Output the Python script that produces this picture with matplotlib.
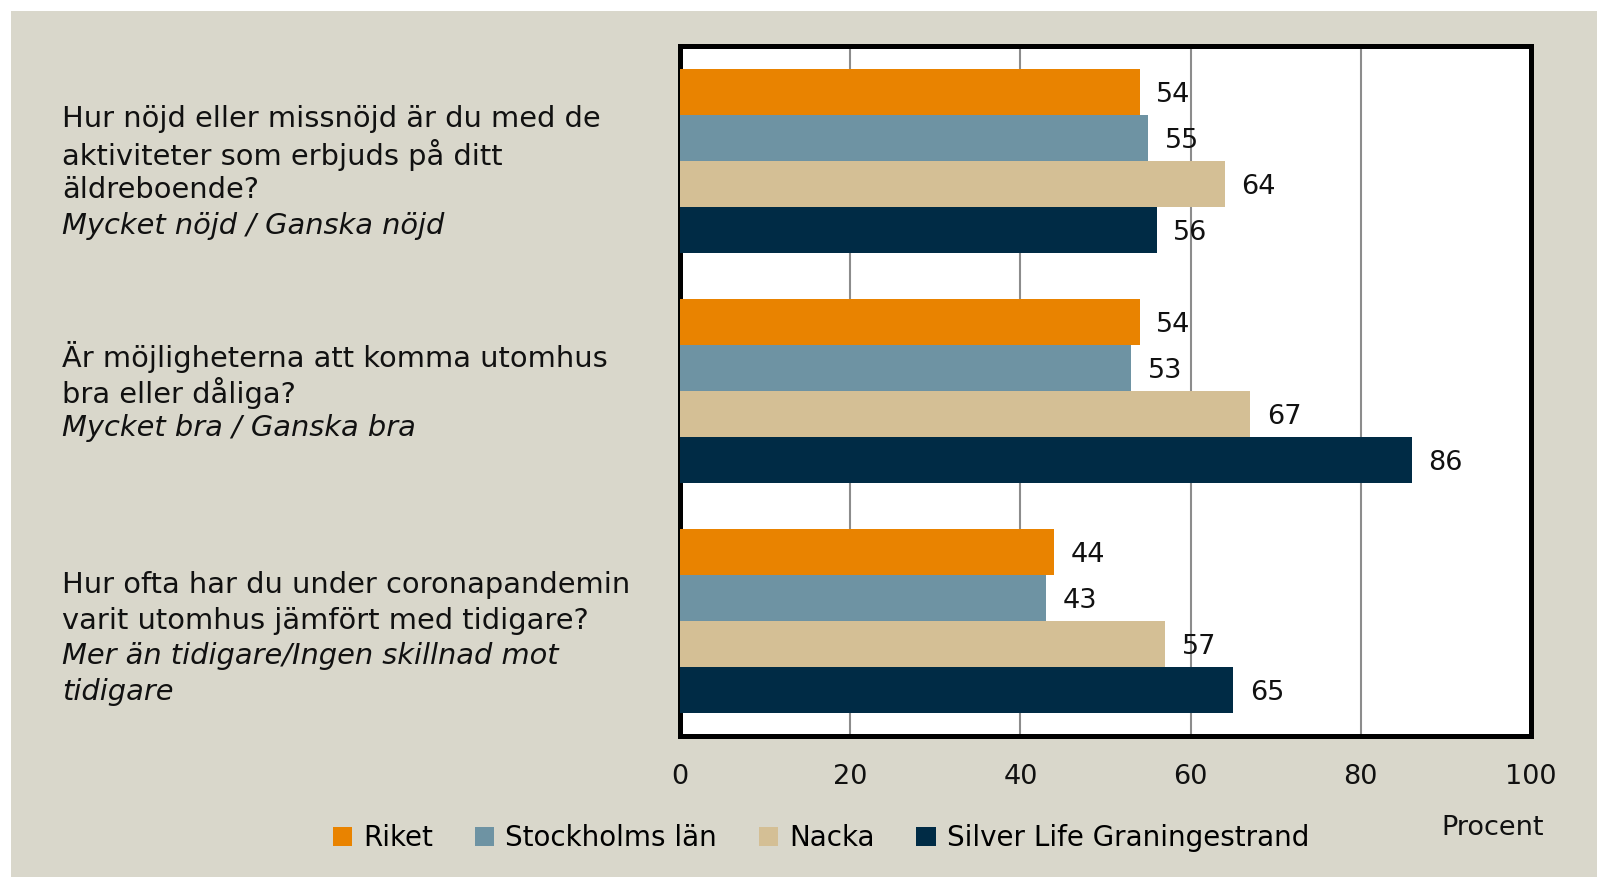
import matplotlib.pyplot as plt
import matplotlib.transforms as mtransforms
from matplotlib.patches import Rectangle, Patch
import numpy as np

plt.rcParams['font.family'] = ['DejaVu Sans']

# data
series = ['Riket', 'Stockholms län', 'Nacka', 'Silver Life Graningestrand']
colors = ['#E98300', '#6E93A3', '#D4BF95', '#002B45']
values = [
    [54, 54, 44],   # Riket
    [55, 53, 43],   # Stockholms län
    [64, 67, 57],   # Nacka
    [56, 86, 65],   # Silver Life Graningestrand
]
questions = [
    ['Hur nöjd eller missnöjd är du med de', 'aktiviteter som erbjuds på ditt', 'äldreboende?'],
    ['Är möjligheterna att komma utomhus', 'bra eller dåliga?'],
    ['Hur ofta har du under coronapandemin', 'varit utomhus jämfört med tidigare?'],
]
answers = [
    ['Mycket nöjd / Ganska nöjd'],
    ['Mycket bra / Ganska bra'],
    ['Mer än tidigare/Ingen skillnad mot', 'tidigare'],
]
first_line_px = [-42, -34, -36]

bg = '#D9D7CB'
fig = plt.figure(figsize=(15.97, 8.77), dpi=100, facecolor='white')
fig.patches.append(Rectangle((11 / 1597, 0), 1, 1 - 11 / 877, transform=fig.transFigure,
                             facecolor=bg, edgecolor='none', zorder=-10))

ax = fig.add_axes([680 / 1597, 1 - 736 / 877, (1531 - 680) / 1597, (736 - 46) / 877])
ax.set_facecolor('white')

h = 0.2
y = np.arange(3)
for i, (name, col) in enumerate(zip(series, colors)):
    pos = y + (i - 1.5) * h
    ax.barh(pos, values[i], height=h, color=col, zorder=3, label=name)
    for p, v in zip(pos, values[i]):
        ax.annotate(str(v), (v, p), xytext=(12, -2.5), textcoords='offset points',
                    va='center', ha='left', fontsize=19.5, color='#111111', zorder=4)

ax.set_xlim(0, 100)
ax.set_ylim(2.5, -0.5)
ax.set_xticks([0, 20, 40, 60, 80, 100])
ax.tick_params(axis='x', length=0, pad=20, labelsize=19.5, colors='#111111')
ax.set_yticks([])
ax.grid(axis='x', color='#8C8C8C', linewidth=1.5, zorder=0)
for s in ax.spines.values():
    s.set_linewidth(3.6)
    s.set_color('black')

# category texts
trans = mtransforms.blended_transform_factory(fig.transFigure, ax.transData)
lh = 35.6 * 0.72
for k in range(3):
    lines = [(t, 'normal') for t in questions[k]] + [(t, 'italic') for t in answers[k]]
    for j, (t, st) in enumerate(lines):
        ax.annotate(t, (62 / 1597, k), xycoords=trans,
                    xytext=(0, -(first_line_px[k] * 0.72) - j * lh), textcoords='offset points',
                    ha='left', va='center', fontsize=20.8, style=st, color='#111111',
                    annotation_clip=False)

handles = [Patch(facecolor=c, edgecolor='none') for c in colors]
fig.legend(handles, series, loc='center', bbox_to_anchor=(821 / 1597, 1 - 838 / 877),
           ncol=4, frameon=False, fontsize=20, handlelength=0.7, handleheight=0.7,
           handletextpad=0.4, columnspacing=1.5)

fig.text(1493 / 1597, 1 - 828 / 877, 'Procent', ha='center', va='center', fontsize=19.5,
         color='#111111')

fig.savefig('out.png', dpi=100, facecolor=fig.get_facecolor())
